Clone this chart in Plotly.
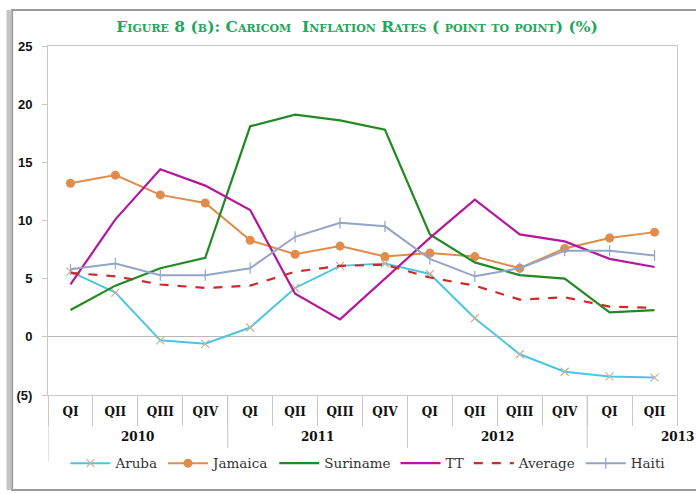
import plotly.graph_objects as go

years = ["2010"] * 4 + ["2011"] * 4 + ["2012"] * 4 + ["2013"] * 2
quarters = ["QI", "QII", "QIII", "QIV"] * 3 + ["QI", "QII"]

aruba = [5.6, 3.8, -0.3, -0.6, 0.8, 4.2, 6.1, 6.3, 5.4, 1.6, -1.5, -3.0, -3.4, -3.5]
jamaica = [13.2, 13.9, 12.2, 11.5, 8.3, 7.1, 7.8, 6.9, 7.2, 6.9, 5.9, 7.6, 8.5, 9.0]
suriname = [2.3, 4.4, 5.9, 6.8, 18.1, 19.1, 18.6, 17.8, 8.8, 6.4, 5.3, 5.0, 2.1, 2.3]
tt = [4.5, 10.1, 14.4, 13.0, 10.9, 3.7, 1.5, 5.0, 8.5, 11.8, 8.8, 8.2, 6.7, 6.0]
average = [5.5, 5.2, 4.5, 4.2, 4.4, 5.6, 6.1, 6.2, 5.1, 4.4, 3.2, 3.4, 2.6, 2.5]
haiti = [5.8, 6.3, 5.3, 5.3, 5.9, 8.6, 9.8, 9.5, 6.7, 5.2, 5.9, 7.4, 7.4, 7.0]

y_tickvals = [-5, 0, 5, 10, 15, 20, 25]
y_ticktext = ["(5)", "0", "5", "10", "15", "20", "25"]

idx = list(range(len(quarters)))

fig = go.Figure()
fig.add_trace(go.Scatter(x=idx, y=aruba, name="Aruba", mode="lines+markers",
                         line=dict(color="#4cc6e0", width=2),
                         marker=dict(symbol="x-thin", size=8, line=dict(color="#c9b09a", width=1.2), color="#c9b09a")))
fig.add_trace(go.Scatter(x=idx, y=jamaica, name="Jamaica", mode="lines+markers",
                         line=dict(color="#e08c4a", width=2),
                         marker=dict(symbol="circle", size=9, color="#e08c4a")))
fig.add_trace(go.Scatter(x=idx, y=suriname, name="Suriname", mode="lines",
                         line=dict(color="#238a23", width=2.2)))
fig.add_trace(go.Scatter(x=idx, y=tt, name="TT", mode="lines",
                         line=dict(color="#b3179b", width=2.2)))
fig.add_trace(go.Scatter(x=idx, y=average, name="Average", mode="lines",
                         line=dict(color="#cc2b2b", width=2.2, dash="dash")))
fig.add_trace(go.Scatter(x=idx, y=haiti, name="Haiti", mode="lines+markers",
                         line=dict(color="#93a5c6", width=2),
                         marker=dict(symbol="line-ns", size=8, line=dict(color="#93a5c6", width=1.2))))

boundaries = [i - 0.5 for i in range(len(quarters) + 1)]

fig.update_layout(
    width=696, height=494,
    margin=dict(l=48, r=19, t=46, b=99, autoexpand=False),
    plot_bgcolor="white", paper_bgcolor="white",
    title=dict(text="Figure 8 (b): Caricom  Inflation Rates ( point to point) (%)",
               x=0.513, xanchor="center", xref="container", y=0.947, yref="container", yanchor="middle",
               font=dict(family="DejaVu Serif", size=15.5, color="#1ea85a", weight="bold", variant="small-caps")),
    showlegend=True,
    legend=dict(orientation="h", x=0.094, xanchor="left", xref="container",
                y=0.062, yanchor="middle", yref="container",
                font=dict(family="DejaVu Serif", size=13.5, color="#333333"),
                itemwidth=40, tracegroupgap=0),
    yaxis=dict(range=[-5, 25], tickvals=y_tickvals, ticktext=y_ticktext,
               showgrid=False, zeroline=True, zerolinecolor="#b8b8b8", zerolinewidth=1,
               showline=True, linecolor="#c8c8c8", linewidth=1, mirror=True,
               ticks="outside", ticklen=5, tickcolor="#c8c8c8", ticklabelstandoff=7,
               tickfont=dict(family="Liberation Sans", size=13, color="#111111", weight="bold")),
    xaxis=dict(range=[-0.5, len(quarters) - 0.5], tickvals=idx, ticktext=quarters, showgrid=False,
               zeroline=False,
               showline=True, linecolor="#c8c8c8", linewidth=1, mirror=True,
               ticks="", ticklabelstandoff=6,
               minor=dict(tickvals=boundaries, ticks="outside", ticklen=30, tickcolor="#c8c8c8", showgrid=False),
               tickfont=dict(family="DejaVu Serif", size=12, color="#111111", weight="bold")),
)

# year group labels and dividers
year_order = []
for yv in years:
    if yv not in year_order:
        year_order.append(yv)
for yv in year_order:
    first = years.index(yv)
    fig.add_annotation(x=first + 1.5, y=-0.12, xref="x", yref="paper", text=yv, showarrow=False,
                       font=dict(family="DejaVu Serif", size=12, color="#111111", weight="bold"),
                       xanchor="center", yanchor="middle")
    fig.add_shape(type="line", xref="x", yref="paper", x0=first - 0.5, x1=first - 0.5, y0=0, y1=-0.19,
                  line=dict(color="#c8c8c8", width=1))

# outer frame
fig.add_shape(type="rect", xref="paper", yref="paper", x0=-0.057, x1=1.06, y0=-0.272, y1=1.103,
              line=dict(color="#9a9a9a", width=2), layer="below")
fig.add_shape(type="line", xref="paper", yref="paper", x0=-0.062, x1=-0.062, y0=-0.272, y1=1.103,
              line=dict(color="#c4c4c4", width=5), layer="below")

fig.write_html("out.html", config={"displayModeBar": False},
               post_script="document.body.style.margin='0px';")
